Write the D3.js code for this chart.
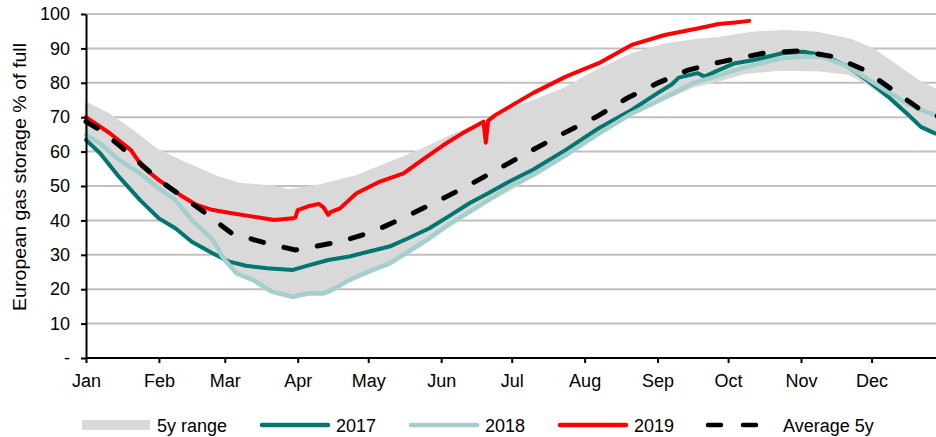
<!DOCTYPE html>
<html>
<head>
<meta charset="utf-8">
<script src="https://cdn.jsdelivr.net/npm/d3@7"></script>
<style>
	body { margin: 0; background: #fff; }
	svg { display: block; font-family: "Liberation Sans", Arial, sans-serif; }
	.grid line { stroke: #c0c0c0; stroke-width: 2; }
	.axis path, .axis line { stroke: #000; stroke-width: 2; }
	.axis text { font-size: 18px; fill: #000; font-family: "Liberation Sans", Arial, sans-serif; }
	.legend text { font-size: 18px; fill: #000; }
</style>
</head>
<body>
<div id="chart"></div>
<script>
// month tick labels and y ticks
const monthStarts = ["01-01", "02-01", "03-01", "04-01", "05-01", "06-01",
	"07-01", "08-01", "09-01", "10-01", "11-01", "12-01"];
const yTicks = [0, 10, 20, 30, 40, 50, 60, 70, 80, 90, 100];

// 5y range, upper and lower edge (% full)
const rangeUpper = [
	["01-01", 74.0], ["01-11", 70.6], ["01-20", 66.3], ["01-31", 60.5], ["02-12", 56.6],
	["02-25", 52.7], ["03-07", 50.5], ["03-21", 49.8], ["03-28", 48.6], ["04-08", 49.8],
	["04-12", 50.3], ["04-26", 52.7], ["05-10", 56.6], ["05-24", 60.5], ["06-08", 65.3],
	["06-22", 69.2], ["06-30", 72.1], ["07-10", 74.5], ["07-24", 78.4], ["08-07", 83.7],
	["08-21", 88.1], ["09-04", 91.0], ["09-18", 92.4], ["09-27", 92.9], ["10-11", 94.4],
	["10-25", 94.9], ["11-08", 94.4], ["11-22", 92.4], ["12-02", 89.5], ["12-12", 84.7],
	["12-20", 80.8], ["12-28", 77.9], ["12-30", 77.5]
];
const rangeLower = [
	["01-01", 63.0], ["01-07", 59.3], ["01-15", 52.5], ["01-24", 45.7], ["02-01", 40.4],
	["02-08", 37.5], ["02-15", 33.6], ["02-24", 30.2], ["02-28", 28.8], ["03-06", 24.4],
	["03-13", 22.5], ["03-21", 19.1], ["03-30", 17.5], ["04-02", 18.0], ["04-06", 18.5],
	["04-12", 18.5], ["04-17", 20.0], ["04-23", 22.5], ["05-01", 24.8], ["05-10", 27.2],
	["05-18", 30.6], ["05-27", 34.5], ["06-04", 38.4], ["06-13", 42.2], ["06-21", 45.6],
	["06-30", 49.0], ["07-10", 52.9], ["07-24", 58.7], ["08-07", 65.0], ["08-21", 70.8],
	["09-05", 75.7], ["09-16", 79.0], ["09-28", 81.0], ["10-08", 83.0], ["10-24", 84.0],
	["11-09", 83.7], ["11-21", 82.8], ["11-28", 80.4], ["12-08", 75.7], ["12-16", 70.8],
	["12-22", 66.9], ["12-28", 65.0], ["12-30", 64.7]
];

const s2017 = [
	["01-01", 63.4], ["01-07", 59.5], ["01-15", 52.7], ["01-24", 45.9], ["02-01", 40.6],
	["02-08", 37.7], ["02-15", 33.8], ["02-24", 30.4], ["03-03", 28.0], ["03-10", 26.8],
	["03-19", 26.1], ["03-30", 25.6], ["04-06", 27.0], ["04-14", 28.5], ["04-23", 29.5],
	["05-01", 30.9], ["05-10", 32.4], ["05-18", 34.8], ["05-27", 37.7], ["06-04", 41.1],
	["06-13", 45.0], ["06-21", 47.9], ["06-30", 51.3], ["07-10", 54.7], ["07-24", 60.5],
	["08-07", 66.8], ["08-21", 72.1], ["09-01", 77.0], ["09-07", 79.5], ["09-10", 81.5],
	["09-18", 82.8], ["09-21", 81.8], ["09-27", 83.7], ["10-04", 85.7], ["10-12", 86.6],
	["10-24", 88.6], ["11-02", 89.0], ["11-10", 88.1], ["11-21", 84.7], ["11-29", 80.8],
	["12-08", 76.0], ["12-16", 71.1], ["12-22", 67.2], ["12-28", 65.3], ["12-30", 65.0]
];
const s2018 = [
	["01-01", 64.8], ["01-07", 62.4], ["01-15", 57.6], ["01-24", 53.7], ["02-01", 49.3],
	["02-08", 45.9], ["02-15", 40.1], ["02-24", 34.3], ["02-28", 29.4], ["03-06", 24.6],
	["03-13", 22.7], ["03-21", 19.3], ["03-30", 17.8], ["04-02", 18.3], ["04-06", 18.8],
	["04-12", 18.8], ["04-17", 20.3], ["04-23", 22.7], ["05-01", 25.1], ["05-10", 27.5],
	["05-18", 30.9], ["05-27", 34.8], ["06-04", 38.7], ["06-13", 42.5], ["06-21", 45.9],
	["06-30", 49.8], ["07-10", 53.2], ["07-24", 59.0], ["08-07", 65.3], ["08-21", 71.1],
	["09-05", 76.0], ["09-16", 79.9], ["09-28", 82.3], ["10-04", 83.7], ["10-12", 85.2],
	["10-24", 87.1], ["11-02", 87.6], ["11-10", 87.6], ["11-21", 84.7], ["11-29", 81.3],
	["12-08", 77.4], ["12-16", 74.0], ["12-22", 72.1], ["12-28", 70.6], ["12-30", 70.2]
];
const s2019 = [
	["01-01", 70.0], ["01-11", 65.4], ["01-20", 60.5], ["01-25", 55.6], ["02-01", 51.7],
	["02-10", 47.4], ["02-17", 44.5], ["02-24", 43.0], ["03-04", 42.1], ["03-13", 41.1],
	["03-22", 40.1], ["03-30", 40.6], ["03-31", 40.8], ["04-01", 43.0], ["04-06", 44.2],
	["04-10", 44.8], ["04-12", 43.8], ["04-14", 41.6], ["04-15", 42.4], ["04-19", 43.5],
	["04-26", 47.9], ["05-06", 51.3], ["05-16", 53.7], ["05-24", 57.6], ["06-02", 61.9],
	["06-10", 65.3], ["06-19", 68.7], ["06-20", 62.6], ["06-21", 69.0], ["06-24", 70.6],
	["06-30", 73.0], ["07-10", 77.0], ["07-24", 81.8], ["08-07", 85.7], ["08-21", 91.0],
	["09-04", 93.9], ["09-18", 95.8], ["09-27", 97.1], ["10-04", 97.5], ["10-10", 98.0]
];
const avg5y = [
	["01-01", 68.7], ["01-07", 66.3], ["01-15", 61.9], ["01-24", 56.6], ["02-01", 51.7],
	["02-10", 47.4], ["02-20", 42.5], ["03-04", 36.2], ["03-19", 33.3], ["03-31", 31.4],
	["04-19", 33.8], ["05-03", 36.7], ["05-17", 41.1], ["05-30", 45.4], ["06-13", 50.3],
	["06-27", 55.6], ["07-10", 60.5], ["07-23", 65.3], ["08-06", 70.1], ["08-19", 75.5],
	["09-01", 79.9], ["09-14", 83.7], ["09-28", 86.1], ["10-16", 88.6], ["10-31", 89.3],
	["11-15", 87.6], ["11-28", 83.7], ["12-10", 77.9], ["12-21", 72.6], ["12-28", 70.6],
	["12-30", 70.0]
];

const width = 936, height = 437;
const margin = {top: 14, left: 86, bottom: 358};

const parse = md => d3.timeParse("%Y-%m-%d")("2019-" + md);
const toPoints = arr => arr.map(([d, v]) => ({date: parse(d), value: v}));

const x = d3.scaleTime()
		.domain([parse("01-01"), new Date(2020, 0, 1)])
		.range([margin.left, margin.left + 365 * 2.352]);
const y = d3.scaleLinear()
		.domain([0, 100])
		.range([margin.bottom, margin.top]);

const svg = d3.select("#chart").append("svg")
		.attr("width", width)
		.attr("height", height);

// gridlines
svg.append("g")
		.attr("class", "grid")
	.selectAll("line")
	.data(yTicks.filter(t => t > 0))
	.enter().append("line")
		.attr("x1", margin.left)
		.attr("x2", width)
		.attr("y1", d => y(d))
		.attr("y2", d => y(d));

const line = d3.line()
		.x(d => x(d.date))
		.y(d => y(d.value));

// 5y range band: upper edge forward, lower edge back
var bandPts = toPoints(rangeUpper).concat(toPoints(rangeLower).reverse());
svg.append("path")
		.attr("d", line(bandPts) + "Z")
		.attr("fill", "#d9d9d9")
		.attr("stroke", "#d9d9d9")
		.attr("stroke-width", 3)
		.attr("stroke-linejoin", "round");

const series = [
	{data: s2017, color: "#00766f", width: 4},
	{data: s2018, color: "#a5cfcd", width: 4.5},
	{data: s2019, color: "#ff0000", width: 4}
];

series.forEach(s => {
	svg.append("path")
			.attr("d", line(toPoints(s.data)))
			.attr("fill", "none")
			.attr("stroke", s.color)
			.attr("stroke-width", s.width)
			.attr("stroke-linejoin", "round")
			.attr("stroke-linecap", "round");
});

svg.append("path")
		.attr("d", line(toPoints(avg5y)))
		.attr("fill", "none")
		.attr("stroke", "#000")
		.attr("stroke-width", 5)
		.attr("stroke-dasharray", "13,21")
		.attr("stroke-linecap", "round");

// axes
svg.append("g")
		.attr("class", "axis")
		.attr("transform", `translate(0, ${margin.bottom})`)
		.call(d3.axisBottom(x)
			.tickValues(monthStarts.map(parse))
			.tickFormat(d3.timeFormat("%b"))
			.tickSize(5)
			.tickSizeOuter(0)
			.tickPadding(11));
svg.select(".axis .domain").attr("d", `M${margin.left},0H${width}`);

svg.append("g")
		.attr("class", "axis")
		.attr("transform", `translate(${margin.left}, 0)`)
		.call(d3.axisLeft(y)
			.tickValues(yTicks)
			.tickFormat(d => d === 0 ? "-" : d)
			.tickSize(5)
			.tickSizeOuter(0)
			.tickPadding(11));

svg.append("text")
		.attr("transform", "translate(20, 177) rotate(-90)")
		.attr("text-anchor", "middle")
		.attr("dominant-baseline", "central")
		.attr("font-size", 18)
		.attr("textLength", 268)
		.attr("lengthAdjust", "spacingAndGlyphs")
		.text("European gas storage % of full");

// legend
const legend = svg.append("g")
		.attr("class", "legend")
		.attr("transform", "translate(0, 425)");

legend.append("rect")
		.attr("x", 82).attr("y", -5)
		.attr("width", 68).attr("height", 10)
		.attr("fill", "#d9d9d9");

const legendLines = [
	{x1: 262, x2: 328, color: "#00766f", dash: null},
	{x1: 411, x2: 477, color: "#a5cfcd", dash: null},
	{x1: 560, x2: 626, color: "#ff0000", dash: null},
	{x1: 708, x2: 757, color: "#000", dash: "13,22"}
];
legendLines.forEach(l => {
	legend.append("line")
			.attr("x1", l.x1).attr("x2", l.x2)
			.attr("stroke", l.color)
			.attr("stroke-width", 4.5)
			.attr("stroke-linecap", "round")
			.attr("stroke-dasharray", l.dash);
});

const legendLabels = [
	{x: 157, text: "5y range"},
	{x: 336, text: "2017"},
	{x: 485, text: "2018"},
	{x: 634, text: "2019"},
	{x: 783, text: "Average 5y"}
];
legend.selectAll("text.lbl")
	.data(legendLabels)
	.enter().append("text")
		.attr("class", "lbl")
		.attr("x", d => d.x)
		.attr("y", 1)
		.attr("dominant-baseline", "central")
		.text(d => d.text);
</script>
</body>
</html>
